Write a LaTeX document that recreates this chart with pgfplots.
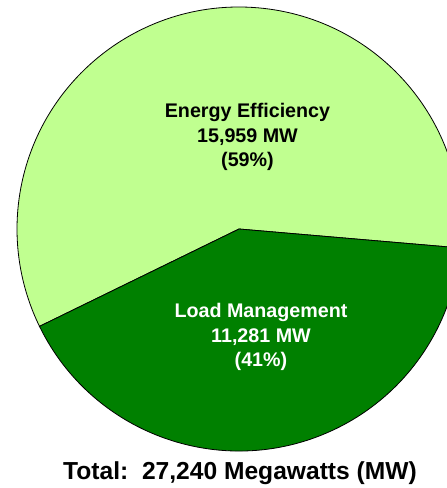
\documentclass[border=0pt]{standalone}
\usepackage{pgfplots}
\usepackage{pgfplotstable}
\pgfplotsset{compat=1.18}
\usepackage{fontspec}
\setmainfont{Liberation Sans}
\definecolor{eeGreen}{RGB}{192,255,144}
\definecolor{lmGreen}{RGB}{0,128,0}
\pgfplotstableread{
name value
EE 15959
LM 11281
}\piedata
\begin{document}
\begin{tikzpicture}
\pgfplotstablegetelem{0}{value}\of\piedata
\pgfmathsetmacro\vEE{\pgfplotsretval/1000}
\pgfplotstablegetelem{1}{value}\of\piedata
\pgfmathsetmacro\vLM{\pgfplotsretval/1000}
\pgfmathsetmacro\tot{\vEE+\vLM}
\pgfmathsetmacro\aStart{-4.9}
\pgfmathsetmacro\aMid{\aStart+360*\vEE/\tot}
\pgfmathsetmacro\aEnd{\aStart+360}
\useasboundingbox (0,0) rectangle (447pt,488pt);
\clip (0,0) rectangle (447pt,488pt);
\begin{axis}[at={(0,0)},anchor=south west,scale only axis,
  width=447pt,height=488pt,xmin=0,xmax=447,ymin=0,ymax=488,
  hide axis,clip=true]
\addplot[draw=none] coordinates {(0,0) (447,488)};
\fill[eeGreen,draw=black,line width=0.8pt] (axis cs:239,259) -- ++(\aStart:222pt) arc[start angle=\aStart,end angle=\aMid,radius=222pt] -- cycle;
\fill[lmGreen,draw=black,line width=0.8pt] (axis cs:239,259) -- ++(\aMid:222pt) arc[start angle=\aMid,end angle=\aEnd,radius=222pt] -- cycle;
\node[align=center,text=black,font=\fontsize{19.7}{24.5}\selectfont\bfseries] at (axis cs:247.5,351) {Energy Efficiency\\15,959 MW\\(59\%)};
\node[align=center,text=white,font=\fontsize{19.7}{24.5}\selectfont\bfseries] at (axis cs:261,151) {Load Management\\11,281 MW\\(41\%)};
\node[text=black,font=\fontsize{24.6}{29}\selectfont\bfseries] at (axis cs:240,15) {Total:\ \ 27,240 Megawatts (MW)};
\end{axis}
\end{tikzpicture}
\end{document}
